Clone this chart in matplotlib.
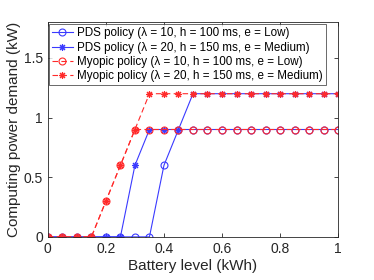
import matplotlib
matplotlib.use("Agg")
import matplotlib.pyplot as plt
import numpy as np

battery = [0, 0.05, 0.1, 0.15, 0.2, 0.25, 0.3, 0.35, 0.4, 0.45, 0.5, 0.55, 0.6,
           0.65, 0.7, 0.75, 0.8, 0.85, 0.9, 0.95, 1.0]
pds_l10 = [0, 0, 0, 0, 0, 0, 0, 0, 0.6, 0.9, 0.9, 0.9, 0.9, 0.9, 0.9, 0.9, 0.9, 0.9, 0.9, 0.9, 0.9]
pds_l20 = [0, 0, 0, 0, 0, 0, 0.6, 0.9, 0.9, 0.9, 1.2, 1.2, 1.2, 1.2, 1.2, 1.2, 1.2, 1.2, 1.2, 1.2, 1.2]
myo_l10 = [0, 0, 0, 0, 0.3, 0.6, 0.9, 0.9, 0.9, 0.9, 0.9, 0.9, 0.9, 0.9, 0.9, 0.9, 0.9, 0.9, 0.9, 0.9, 0.9]
myo_l20 = [0, 0, 0, 0, 0.3, 0.6, 0.9, 1.2, 1.2, 1.2, 1.2, 1.2, 1.2, 1.2, 1.2, 1.2, 1.2, 1.2, 1.2, 1.2, 1.2]
labels = ["PDS policy (λ = 10, h = 100 ms, e = Low)",
          "PDS policy (λ = 20, h = 150 ms, e = Medium)",
          "Myopic policy (λ = 10, h = 100 ms, e = Low)",
          "Myopic policy (λ = 20, h = 150 ms, e = Medium)"]

plt.rcParams['font.family'] = ['Liberation Sans', 'DejaVu Sans']
blue = '#3a3aff'
red = '#ff2a2a'
star = (8, 2, 0)

fig = plt.figure(figsize=(3.74, 2.8), dpi=100)
ax = fig.add_axes([0.128, 0.154, 0.776, 0.767])

ax.plot(battery, pds_l10, '-', color=blue, lw=0.8, marker='o', ms=5, mfc='none', mew=0.8, label=labels[0])
ax.plot(battery, pds_l20, '-', color=blue, lw=0.8, marker=star, ms=5, mew=0.8, label=labels[1])
ax.plot(battery, myo_l10, '--', color=red, lw=0.8, marker='o', ms=5, mfc='none', mew=0.8, label=labels[2], dashes=(5, 3))
ax.plot(battery, myo_l20, '--', color=red, lw=0.8, marker=star, ms=5, mew=0.8, label=labels[3], dashes=(5, 3))

ax.set_xlim(0, 1)
ax.set_ylim(0, 1.8)
ax.set_xticks([0, 0.2, 0.4, 0.6, 0.8, 1])
ax.set_xticklabels(['0', '0.2', '0.4', '0.6', '0.8', '1'])
ax.set_yticks([0, 0.5, 1, 1.5])
ax.set_yticklabels(['0', '0.5', '1', '1.5'])
ax.tick_params(direction='in', top=True, right=True, labelsize=10, length=3, width=0.6, colors='#262626')
for s in ax.spines.values():
    s.set_linewidth(0.6)
    s.set_color('#262626')
ax.set_xlabel('Battery level (kWh)', fontsize=11, color='#262626', labelpad=2)
ax.set_ylabel('Computing power demand (kW)', fontsize=11, color='#262626', labelpad=2)

leg = ax.legend(loc='upper left', fontsize=8.4, frameon=True, fancybox=False,
                handlelength=1.8, handletextpad=0.35, borderpad=0.25, labelspacing=0.2,
                borderaxespad=0.1, bbox_to_anchor=(0.0, 0.995))
leg.get_frame().set_edgecolor('#262626')
leg.get_frame().set_linewidth(0.6)

fig.savefig('out.png', dpi=100)
